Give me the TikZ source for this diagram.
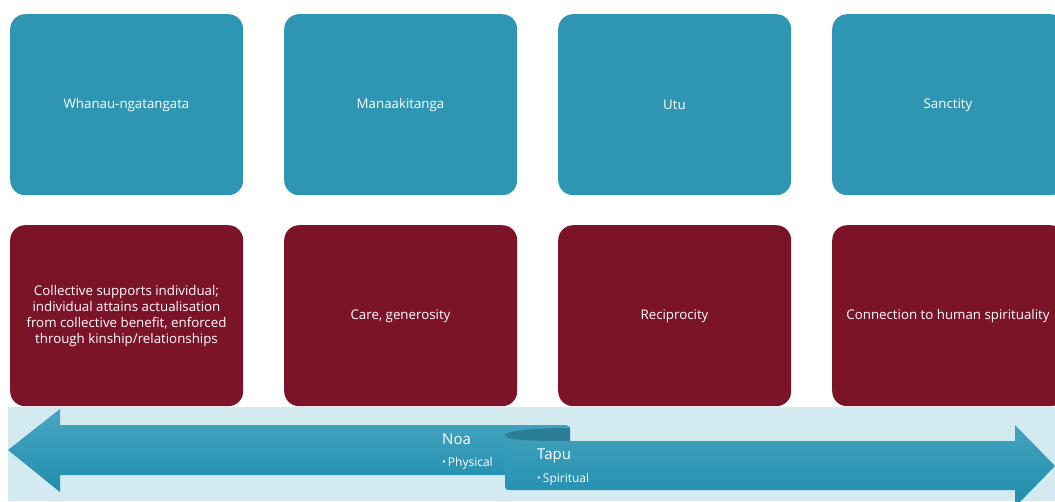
\documentclass[tikz,border=0pt]{standalone}
\usepackage{fontspec}
\setmainfont{Open Sans}
\begin{document}
\begin{tikzpicture}[x=1pt,y=-1pt,
  topbox/.style={fill=topc, rounded corners=15pt, minimum width=233pt, minimum height=181pt, inner sep=0pt, text=white, font=\fontsize{13.3}{16}\selectfont, align=center, anchor=north west},
  botbox/.style={topbox, fill=botc},
  boxtxt/.style={text=white, font=\fontsize{13.3}{16}\selectfont},
  lbl/.style={text=white, anchor=west, inner sep=0pt},
  bul/.style={lbl, font=\fontsize{12}{14}\selectfont},
]
\definecolor{topc}{HTML}{2E96B2}
\definecolor{botc}{HTML}{7B1429}
\definecolor{bandc}{HTML}{D3EAF1}
\definecolor{arrtop}{HTML}{49A6C2}
\definecolor{arrbot}{HTML}{1F8EAD}
\definecolor{curlc}{HTML}{2C7E96}
\useasboundingbox (0,0) rectangle (1055,501);
\clip (0,0) rectangle (1055,501);
% top row
\node[topbox] (t1) at (10,14) {};
\node[topbox] (t2) at (284,14) {};
\node[topbox] (t3) at (558,14) {};
\node[topbox] (t4) at (832,14) {};
\node[boxtxt] (t1l) at (126.5,105) {Whanau-ngatangata};
\node[boxtxt] (t2l) at (400.5,105) {Manaakitanga};
\node[boxtxt] (t3l) at (674.5,105) {Utu};
\node[boxtxt] (t4l) at (948,105) {Sanctity};
% bottom row
\node[botbox] (b1) at (10,225) {};
\node[botbox] (b2) at (284,225) {};
\node[botbox] (b3) at (558,225) {};
\node[botbox] (b4) at (832,225) {};
\node[boxtxt, align=center] (b1l) at (126.5,316) {Collective supports individual;\\individual attains actualisation\\from collective benefit, enforced\\through kinship/relationships};
\node[boxtxt] (b2l) at (400.5,316) {Care, generosity};
\node[boxtxt] (b3l) at (674.5,316) {Reciprocity};
\node[boxtxt] (b4l) at (948,316) {Connection to human spirituality};
% band
\fill[bandc] (8,407) rectangle (1055,501);
% left arrow
\shade[top color=arrtop, bottom color=arrbot] (8,450) -- (60,409) -- (60,425) -- (566,425) -- (570,427) -- (570,441) -- (505,441) -- (505,475) -- (60,475) -- (60,492) -- cycle;
% right arrow
\shade[top color=arrtop!85!arrbot, bottom color=arrbot] (505,436) -- (505,441) -- (1015,441) -- (1015,425) -- (1055,466) -- (1015,507) -- (1015,490) -- (510,490) .. controls (506,490) and (505,489) .. (505,486) -- cycle;
% curl
\fill[curlc] (570,428) .. controls (530,428) and (505,431) .. (505,435.5) .. controls (505,440) and (530,441) .. (570,441) -- cycle;
% labels
\node[lbl, font=\fontsize{15}{17}\selectfont] (noa) at (442,439) {Noa};
\node[bul] (phys) at (442,463) {{\fontsize{10}{10}\selectfont\raisebox{0.5pt}{•}}\hspace{2pt}Physical};
\node[lbl, font=\fontsize{15}{17}\selectfont] (tapu) at (537,456) {Tapu};
\node[bul] (spir) at (537,479) {{\fontsize{10}{10}\selectfont\raisebox{0.5pt}{•}}\hspace{2pt}Spiritual};
\end{tikzpicture}
\end{document}
